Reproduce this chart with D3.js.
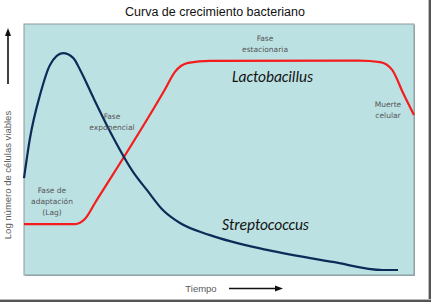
<!DOCTYPE html>
<html><head><meta charset="utf-8">
<script src="https://cdn.jsdelivr.net/npm/d3@7"></script>
<style>html,body{margin:0;padding:0;background:#fff;overflow:hidden}</style>
</head><body><svg id="c" width="433" height="304"></svg>
<script>
// Data (time in arbitrary units 0-100, log viable cells 0-100)
const streptoTime = [0, 1.54, 4.1, 6.67, 10, 12.6, 14.4, 17.7, 22.8, 28, 31.5, 35.6, 40, 47.7, 62.3, 79.2, 92, 95.9];
const streptoValue = [38.6, 54.6, 71.7, 83.7, 88.4, 86.5, 81.7, 70.9, 55, 41, 33.9, 25.9, 20.7, 15.9, 10, 5.2, 2, 2];
const lactoTime = [0, 13.1, 15.6, 18.2, 36.2, 38.7, 42.1, 47.7, 86, 91.3, 94.4, 97.2, 100];
const lactoValue = [20.3, 20.3, 22.3, 28.7, 74.1, 80.9, 84.5, 85.3, 85.4, 84.8, 81.7, 72.5, 63.7];
const title = "Curva de crecimiento bacteriano";
const yLabel = "Log número de células viables";
const xLabel = "Tiempo";

(function () {
const svg = d3.select("#c");
const pL = 24, pR = 414, pT = 24, pB = 275;
const x = d3.scaleLinear().domain([0, 100]).range([pL, pR]);
const y = d3.scaleLinear().domain([0, 100]).range([pB, pT]);

// frame shadow
svg.append("rect").attr("x", 428).attr("y", 0).attr("width", 1).attr("height", 302).attr("fill", "#bbb");
svg.append("rect").attr("x", 429).attr("y", 0).attr("width", 2).attr("height", 302).attr("fill", "#555");
svg.append("rect").attr("x", 0).attr("y", 299).attr("width", 431).attr("height", 1).attr("fill", "#bbb");
svg.append("rect").attr("x", 0).attr("y", 300).attr("width", 431).attr("height", 2).attr("fill", "#555");

// title
svg.append("text").attr("x", 215).attr("y", 16).attr("text-anchor", "middle")
  .attr("font-family", "Liberation Sans, Arial, sans-serif").attr("font-size", 12.5).attr("fill", "#111").text(title);

// plot area
svg.append("rect").attr("x", pL + 1).attr("y", pT + 1).attr("width", pR - pL).attr("height", pB - pT)
  .attr("fill", "#9aaeb0");
svg.append("rect").attr("x", pL).attr("y", pT).attr("width", pR - pL).attr("height", pB - pT)
  .attr("fill", "#bce1e3").attr("stroke", "#8a9a9c").attr("stroke-width", 1);

// y axis arrow
svg.append("line").attr("x1", 8).attr("x2", 8).attr("y1", 84).attr("y2", 34).attr("stroke", "#111").attr("stroke-width", 1.6);
svg.append("path").attr("d", "M8,28 L5,36 L11,36 Z").attr("fill", "#111");
svg.append("text").attr("transform", "translate(11,175) rotate(-90)").attr("text-anchor", "middle")
  .attr("font-family", "Liberation Sans, Arial, sans-serif").attr("font-size", 9.5).attr("fill", "#5a5a5a").text(yLabel);

// x label & arrow
svg.append("text").attr("x", 201).attr("y", 292).attr("text-anchor", "middle")
  .attr("font-family", "Liberation Sans, Arial, sans-serif").attr("font-size", 9.5).attr("fill", "#5a5a5a").text(xLabel);
svg.append("line").attr("x1", 229).attr("x2", 276).attr("y1", 288.5).attr("y2", 288.5).attr("stroke", "#111").attr("stroke-width", 1.6);
svg.append("path").attr("d", "M283,288.5 L275,285.5 L275,291.5 Z").attr("fill", "#111");

// curves
const lineM = d3.line().x(d => x(d[0])).y(d => y(d[1])).curve(d3.curveMonotoneX);
svg.append("path").datum(lactoTime.map((t, i) => [t, lactoValue[i]]))
  .attr("d", lineM).attr("fill", "none").attr("stroke", "#f41c1c").attr("stroke-width", 2.2);
svg.append("path").datum(streptoTime.map((t, i) => [t, streptoValue[i]]))
  .attr("d", lineM).attr("fill", "none").attr("stroke", "#0e2b57").attr("stroke-width", 2.2);

// annotations
const ann = (lines, cx, y0, dy) => {
  const t = svg.append("text").attr("text-anchor", "middle")
    .attr("font-family", "DejaVu Sans, sans-serif").attr("font-size", 7.5).attr("fill", "#555");
  lines.forEach((s, i) => t.append("tspan").attr("x", cx).attr("y", y0 + i * dy).text(s));
};
ann(["Fase", "estacionaria"], 265, 41, 11);
ann(["Fase", "exponencial"], 112, 119, 10.5);
ann(["Fase de", "adaptación", "(Lag)"], 52, 193, 11);
ann(["Muerte", "celular"], 388, 107, 11);

const sp = (s, cx, cy) => svg.append("text").attr("x", cx).attr("y", cy).attr("text-anchor", "middle")
  .attr("font-family", "Carlito, Liberation Sans, sans-serif").attr("font-style", "italic")
  .attr("font-size", 15.5).attr("fill", "#111").text(s);
sp("Lactobacillus", 272.5, 82);
sp("Streptococcus", 265.5, 230);
})();
</script>
</body></html>
